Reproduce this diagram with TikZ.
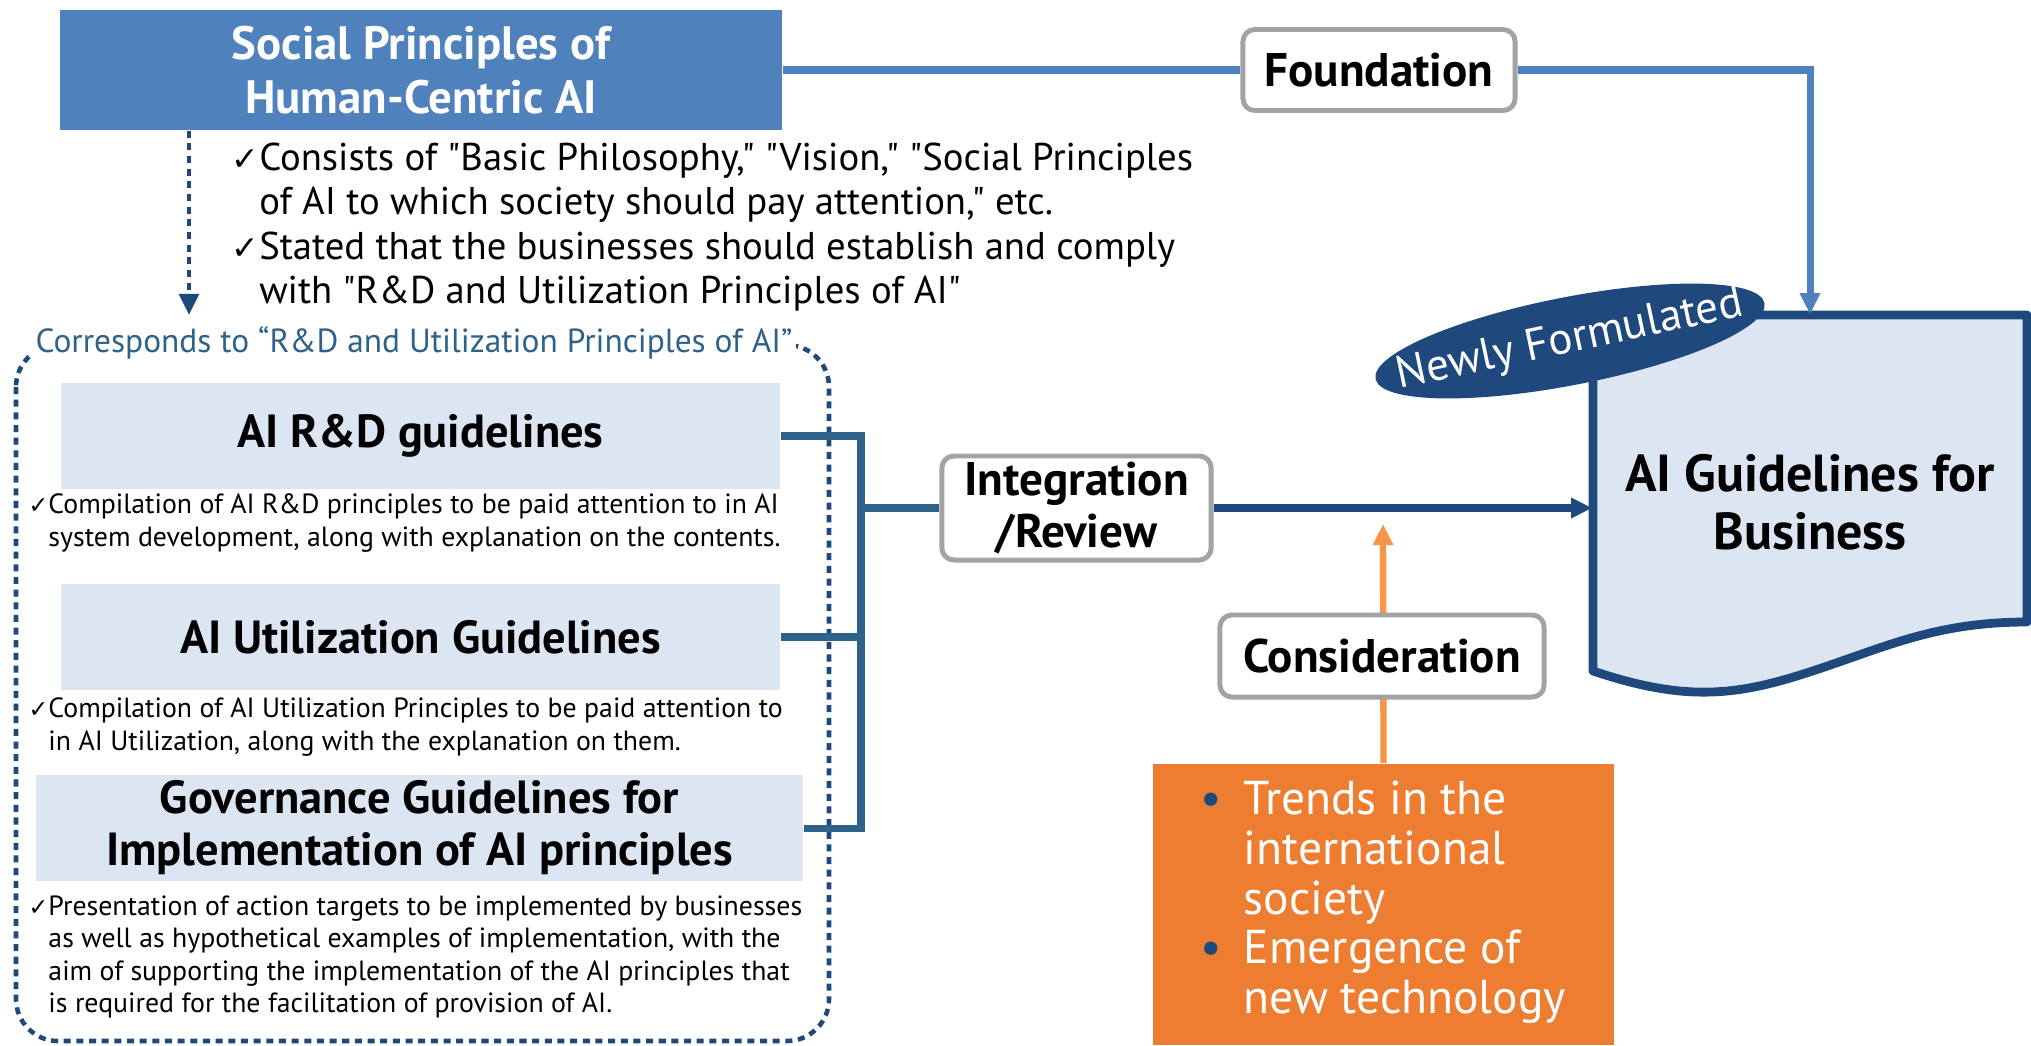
\documentclass[tikz,border=0pt]{standalone}
\usepackage{fontspec}
\setmainfont{PT Sans}[Ligatures=TeXOff]
\newfontfamily\symfont{DejaVu Sans}
\usetikzlibrary{positioning,shapes.geometric,arrows.meta,calc}
\definecolor{midblue}{HTML}{4F81BD}
\definecolor{navy}{HTML}{1F497D}
\definecolor{paleblue}{HTML}{DCE6F2}
\definecolor{steel}{HTML}{2E6288}
\definecolor{boxgray}{HTML}{A3A3A3}
\definecolor{orangebox}{HTML}{ED7D31}
\definecolor{orangeline}{HTML}{F79646}
\newcommand{\chk}{{\symfont\scalebox{0.85}{✓}}}

\begin{document}
\begin{tikzpicture}[x=0.01cm,y=-0.01cm,
  headbox/.style={fill=midblue,text=white,align=center,inner sep=0pt,
    font=\fontsize{13.3}{15.5}\selectfont\bfseries},
  guidebox/.style={fill=paleblue,align=center,inner sep=0pt,minimum height=1.05cm,
    font=\fontsize{13.2}{14.8}\selectfont\bfseries},
  tagbox/.style={draw=boxgray,line width=1.4pt,rounded corners=0.12cm,fill=white,
    align=center,inner sep=0pt,font=\fontsize{13.4}{14.8}\selectfont\bfseries},
  note/.style={anchor=west,align=left,inner sep=0pt,font=\fontsize{7.9}{9.2}\selectfont},
  bracket/.style={draw=steel,line width=2pt},
  dots/.style={draw=navy,line width=1.3pt,dash pattern=on 2pt off 1.6pt},
  tip/.style={-{Triangle[length=6pt,width=5.5pt]}}]
  \useasboundingbox (0,0) rectangle (2031,1045);

  \node[headbox,minimum width=7.22cm,minimum height=1.2cm] (social) at (421,70)
    {Social Principles of\\Human-Centric AI};
  \node[anchor=west,align=left,inner sep=0pt,font=\fontsize{11}{12.6}\selectfont] (consists) at (231,227)
    {\chk Consists of "Basic Philosophy," "Vision," "Social Principles\\
     \hphantom{\chk}of AI to which society should pay attention," etc.\\
     \chk Stated that the businesses should establish and comply\\
     \hphantom{\chk}with "R\&D and Utilization Principles of AI"};

  % left frame with the three guidelines
  \draw[dots,rounded corners=0.42cm] (16,345) rectangle (829,1041);
  \node[fill=white,text=steel,inner sep=1pt,font=\fontsize{9.5}{11}\selectfont] (corr) at (414,343)
    {Corresponds to “R\&D and Utilization Principles of AI”};
  \coordinate (corrtop) at (189,315);
  \draw[dots,tip] (social.south -| corrtop) -- (corrtop);

  \node[guidebox,minimum width=7.19cm] (rd) at (420.5,436) {AI R\&D guidelines};
  \node[note] (rdnote) at (28,523)
    {\chk Compilation of AI R\&D principles to be paid attention to in AI\\
     \hphantom{\chk}system development, along with explanation on the contents.};
  \node[guidebox,minimum width=7.19cm] (util) at (420.5,637) {AI Utilization Guidelines};
  \node[note] (utilnote) at (28,727)
    {\chk Compilation of AI Utilization Principles to be paid attention to\\
     \hphantom{\chk}in AI Utilization, along with the explanation on them.};
  \node[guidebox,minimum width=7.67cm,minimum height=1.06cm] (gov) at (419.5,828)
    {Governance Guidelines for\\Implementation of AI principles};
  \node[note] (govnote) at (28,957)
    {\chk Presentation of action targets to be implemented by businesses\\
     \hphantom{\chk}as well as hypothetical examples of implementation, with the\\
     \hphantom{\chk}aim of supporting the implementation of the AI principles that\\
     \hphantom{\chk}is required for the facilitation of provision of AI.};

  % middle and right
  \node[tagbox,minimum width=2.69cm,minimum height=1.04cm] (integ) at (1076.5,508)
    {Integration\\/Review};
  \coordinate (join) at (861,508);
  \draw[bracket] (rd.east) -| (join);
  \draw[bracket] (gov.east) -| (join);
  \draw[bracket] (util.east) -- (util.east -| join);
  \draw[bracket] (join) -- (integ.west);

  \node[minimum width=4.34cm,minimum height=3.56cm,inner sep=0pt] (doc) at (1810,493) {};
  \draw[navy,fill=paleblue,line width=2.5pt,line join=round]
    (1593,315) -- (2027,315) -- (2027,622)
    .. controls (1930,622) and (1880,650) .. (1800,675)
    .. controls (1730,697) and (1680,700) .. (1593,671) -- cycle;
  \node[align=center,font=\fontsize{14.8}{16.5}\selectfont\bfseries] (doctext) at (1810,502)
    {AI Guidelines for\\Business};
  \node[ellipse,fill=navy,rotate=11,inner sep=0pt,minimum width=3.96cm,
    minimum height=0.88cm] (newly) at (1570,341) {};
  \node[text=white,rotate=12,inner sep=0pt,font=\fontsize{12.8}{14}\selectfont] (newlytext)
    at (newly.center) {Newly Formulated};

  \node[tagbox,minimum width=2.72cm,minimum height=0.81cm] (found) at (1379,70) {Foundation};
  \draw[midblue,line width=2pt] (social.east) -- (found.west);
  \draw[midblue,line width=2pt,tip] (found.east) -| (doc.north);
  \draw[navy,line width=2.2pt,tip] (integ.east) -- (integ.east -| doc.west);

  \node[fill=orangebox,minimum width=4.61cm,minimum height=2.81cm,inner sep=0pt] (trends)
    at (1383.5,904.5) {};
  \node[anchor=west,inner sep=0pt,text=white,font=\fontsize{13.5}{14.2}\selectfont] (trendlist)
    at (1200,904)
    {\begin{tabular}{@{}p{0.43cm}@{}l@{}}
      \textcolor{navy}{\textbullet} & Trends in the\\
       & international\\
       & society\\
      \textcolor{navy}{\textbullet} & Emergence of\\
       & new technology
     \end{tabular}};
  \coordinate (considtip) at (1383,524);
  \draw[orangeline,line width=1.8pt,tip] (trends.north) -- (considtip);
  \node[tagbox,minimum width=3.24cm,minimum height=0.82cm] (consid) at (1382,656) {Consideration};
\end{tikzpicture}
\end{document}
